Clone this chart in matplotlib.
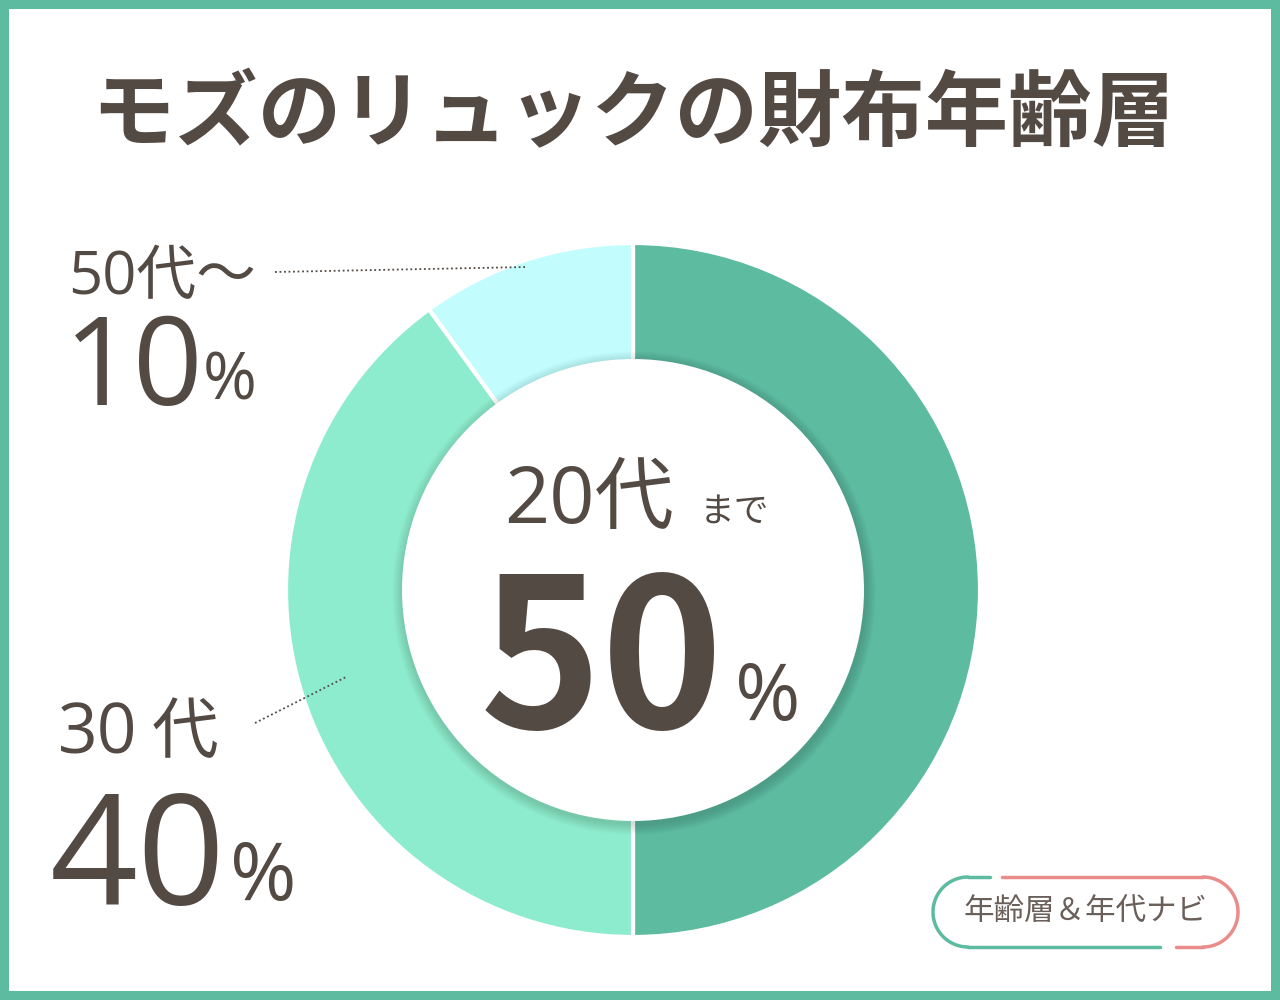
import numpy as np
import matplotlib
matplotlib.use("Agg")
import matplotlib.pyplot as plt
from matplotlib.patches import Circle, Rectangle

plt.rcParams['font.family'] = ['Noto Sans CJK JP', 'DejaVu Sans']
NUM = ['Open Sans', 'Noto Sans CJK JP', 'DejaVu Sans']

title = "モズのリュックの財布年齢層"
categories = ["20代まで", "30代", "50代～"]
values = [50, 40, 10]
colors = ["#5dbb9f", "#8eecce", "#c2fcfc"]

TEXT = "#544a44"
W, H = 1280, 1000

fig = plt.figure(figsize=(12.8, 10), dpi=100)
ax = fig.add_axes([0, 0, 1, 1])

def Y(py):
    return H - py

# donut
cx, cy = 633, Y(590)
R_out, R_in = 347, 226
ax.pie(values, colors=colors, startangle=90, counterclock=False, center=(cx, cy), radius=R_out,
       wedgeprops=dict(width=R_out - R_in, edgecolor='white', linewidth=3), frame=True)
ax.set_xlim(0, W)
ax.set_ylim(0, H)
ax.set_aspect('equal')
ax.axis('off')

# frame
fig.patch.set_facecolor("#5dbb9f")
ax.add_patch(Rectangle((9, Y(991)), W - 18, 982, facecolor="white", edgecolor="none", zorder=-1))

# title
ax.text(633, Y(116), title, ha='center', va='center', fontsize=60, fontweight='bold', color=TEXT)

# inner shadow + white hole
for k in range(12, 0, -1):
    ax.add_patch(Circle((cx + 1, cy - 3), 231 + k * 0.9, facecolor='black', alpha=0.01, edgecolor='none', zorder=3))
ax.add_patch(Circle((cx, cy), 231, facecolor='white', edgecolor='none', zorder=4))

# center text
ax.text(504, Y(523), "20代", ha='left', va='baseline', fontsize=57, color=TEXT, family=NUM, zorder=5)
ax.text(700, Y(522), "まで", ha='left', va='baseline', fontsize=25, color=TEXT, zorder=5)
ax.text(480, Y(728), "50", ha='left', va='baseline', fontsize=149, fontweight='bold', color=TEXT, zorder=5)
ax.text(735, Y(720), "%", ha='left', va='baseline', fontsize=57, color=TEXT, family=NUM, zorder=5)

# left labels
ax.text(68, Y(294), "50代～", ha='left', va='baseline', fontsize=43, color=TEXT, family=NUM)
ax.text(64, Y(405), "10", ha='left', va='baseline', fontsize=88, color=TEXT, family=NUM)
ax.text(203, Y(400), "%", ha='left', va='baseline', fontsize=47, color=TEXT, family=NUM)

ax.text(58, Y(753), "30", ha='left', va='baseline', fontsize=50, color=TEXT, family=NUM)
ax.text(152, Y(753), "代", ha='left', va='baseline', fontsize=48, color=TEXT)
ax.text(50, Y(905), "40", ha='left', va='baseline', fontsize=111, color=TEXT, family=NUM)
ax.text(230, Y(900), "%", ha='left', va='baseline', fontsize=58, color=TEXT, family=NUM)

# leader lines
ax.plot([275, 527], [Y(272), Y(267)], linestyle=(0, (1, 1.5)), color=TEXT, linewidth=1.3, zorder=6)
ax.plot([255, 346], [Y(723), Y(677)], linestyle=(0, (1, 1.5)), color=TEXT, linewidth=1.3, zorder=6)

# badge
GREEN, PINK = "#5dbb9f", "#ea8c8c"
r = 35
lcx, rcx, bcy = 968, 1203, Y(912)
t = np.linspace(np.pi / 2, 3 * np.pi / 2, 60)
ax.plot(lcx + r * np.cos(t), bcy + r * np.sin(t), color=GREEN, lw=2.5, solid_capstyle='round')
ax.plot([lcx, 990], [bcy + r, bcy + r], color=GREEN, lw=2.5, solid_capstyle='round')
ax.plot([lcx, 1160], [bcy - r, bcy - r], color=GREEN, lw=2.5, solid_capstyle='round')
t2 = np.linspace(-np.pi / 2, np.pi / 2, 60)
ax.plot(rcx + r * np.cos(t2), bcy + r * np.sin(t2), color=PINK, lw=2.5, solid_capstyle='round')
ax.plot([1002, rcx], [bcy + r, bcy + r], color=PINK, lw=2.5, solid_capstyle='round')
ax.plot([1176, rcx], [bcy - r, bcy - r], color=PINK, lw=2.5, solid_capstyle='round')
ax.text(1086, bcy, "年齢層＆年代ナビ", ha='center', va='center', fontsize=22, color="#6b5f5a")

fig.savefig("out.png", dpi=100, facecolor=fig.get_facecolor())
